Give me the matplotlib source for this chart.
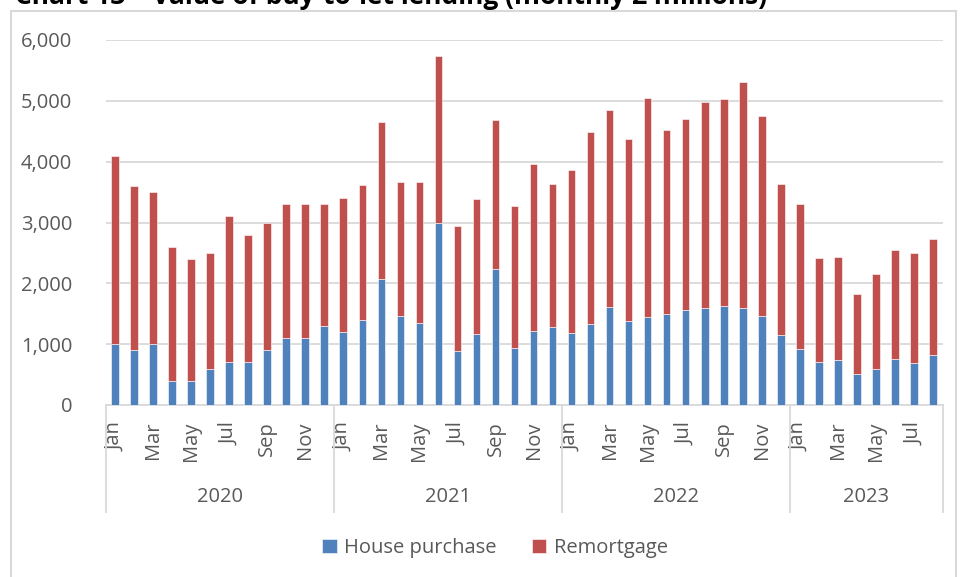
import matplotlib.pyplot as plt
import matplotlib.transforms as mtransforms
from matplotlib.patches import Rectangle
import numpy as np

# Monthly value of buy-to-let lending, Jan 2020 - Aug 2023 (GBP millions)
years = ["2020", "2021", "2022", "2023"]
months_per_year = [12, 12, 12, 8]
month_names = ["Jan", "Feb", "Mar", "Apr", "May", "Jun",
               "Jul", "Aug", "Sep", "Oct", "Nov", "Dec"]

house_purchase = [
    1000, 900, 1000, 400, 400, 600, 700, 700, 900, 1100, 1100, 1300,      # 2020
    1200, 1400, 2070, 1460, 1350, 3000, 890, 1160, 2230, 930, 1210, 1290,  # 2021
    1190, 1330, 1610, 1380, 1450, 1500, 1560, 1590, 1620, 1590, 1460, 1150,  # 2022
    915, 700, 745, 515, 590, 760, 695, 820,                               # 2023
]
remortgage = [
    3100, 2700, 2500, 2200, 2000, 1900, 2400, 2100, 2100, 2200, 2200, 2000,
    2210, 2210, 2580, 2210, 2320, 2730, 2050, 2220, 2460, 2340, 2750, 2350,
    2670, 3160, 3235, 2990, 3600, 3015, 3135, 3385, 3415, 3725, 3285, 2490,
    2395, 1710, 1690, 1305, 1565, 1780, 1800, 1910,
]

BLUE = "#4F81BD"
RED = "#C0504D"
GRID = "#D9D9D9"
TEXT = "#595959"

W, H = 961, 577


def px_x(x):
    return x / W


def px_y(y):
    # pixel rows from top -> figure fraction from bottom
    return 1 - y / H


def main():
    plt.rcParams['font.family'] = ['Open Sans', 'DejaVu Sans']

    fig = plt.figure(figsize=(W / 100, H / 100), dpi=100)
    ax = fig.add_axes([px_x(105.5), px_y(405), px_x(942.5) - px_x(105.5), px_y(40) - px_y(405)])

    n = len(house_purchase)
    x = np.arange(n)
    ax.bar(x, house_purchase, width=0.4, color=BLUE, edgecolor="white",
           linewidth=0.4, label="House purchase", zorder=3)
    ax.bar(x, remortgage, width=0.4, bottom=house_purchase, color=RED,
           edgecolor="white", linewidth=0.4, label="Remortgage", zorder=3)

    ax.set_xlim(-0.5, n - 0.5)
    ax.set_ylim(0, 6000)
    ax.set_yticks(np.arange(0, 6001, 1000))
    ax.set_yticklabels([f"{v:,}" for v in range(0, 6001, 1000)])
    ax.grid(axis="y", color=GRID, linewidth=1.3, zorder=0)
    for side in ["top", "right", "left"]:
        ax.spines[side].set_visible(False)
    ax.spines["bottom"].set_color(GRID)
    ax.spines["bottom"].set_linewidth(1.3)
    ax.tick_params(axis="y", length=0, pad=24, labelsize=14.5, labelcolor=TEXT)

    # every other month label, rotated
    month_labels = []
    for count in months_per_year:
        month_labels += month_names[:count]
    ticks = x[::2]
    ax.set_xticks(ticks)
    ax.set_xticklabels([month_labels[i] for i in ticks], rotation=90, va="top")
    ax.tick_params(axis="x", length=0, pad=12, labelsize=14.5, labelcolor=TEXT)

    # year level + separators
    trans = mtransforms.blended_transform_factory(ax.transData, ax.transAxes)
    y_sep_bottom = (405 - 512) / 365
    start = 0
    edges = [-0.5]
    for year, count in zip(years, months_per_year):
        centre = start + (count - 1) / 2
        ax.text(centre, (405 - 497) / 365, year, transform=trans, ha="center",
                va="center", fontsize=14.5, color=TEXT)
        start += count
        edges.append(start - 0.5)
    for e in edges:
        ax.plot([e, e], [0, y_sep_bottom], transform=trans, color=GRID,
                linewidth=1.3, clip_on=False)

    fig.legend(loc="center", bbox_to_anchor=(px_x(495), px_y(548)), ncol=2,
               frameon=False, fontsize=14.5, labelcolor=TEXT,
               handlelength=0.7, handleheight=0.7, handletextpad=0.35,
               columnspacing=1.8)

    # chart border, runs off the bottom of the picture
    fig.patches.append(Rectangle((px_x(11), px_y(600)), px_x(956) - px_x(11),
                                 px_y(11) - px_y(600), transform=fig.transFigure,
                                 fill=False, edgecolor=GRID, linewidth=1.5))

    # title, mostly cut off at the top (as in the source)
    fig.text(px_x(15), px_y(4), "Chart 13 \u2013 Value of buy-to-let lending (monthly \u00a3 millions)",
             fontsize=19, fontweight="bold", color="black", va="baseline")

    fig.savefig("out.png", dpi=100)


if __name__ == '__main__':
    main()
